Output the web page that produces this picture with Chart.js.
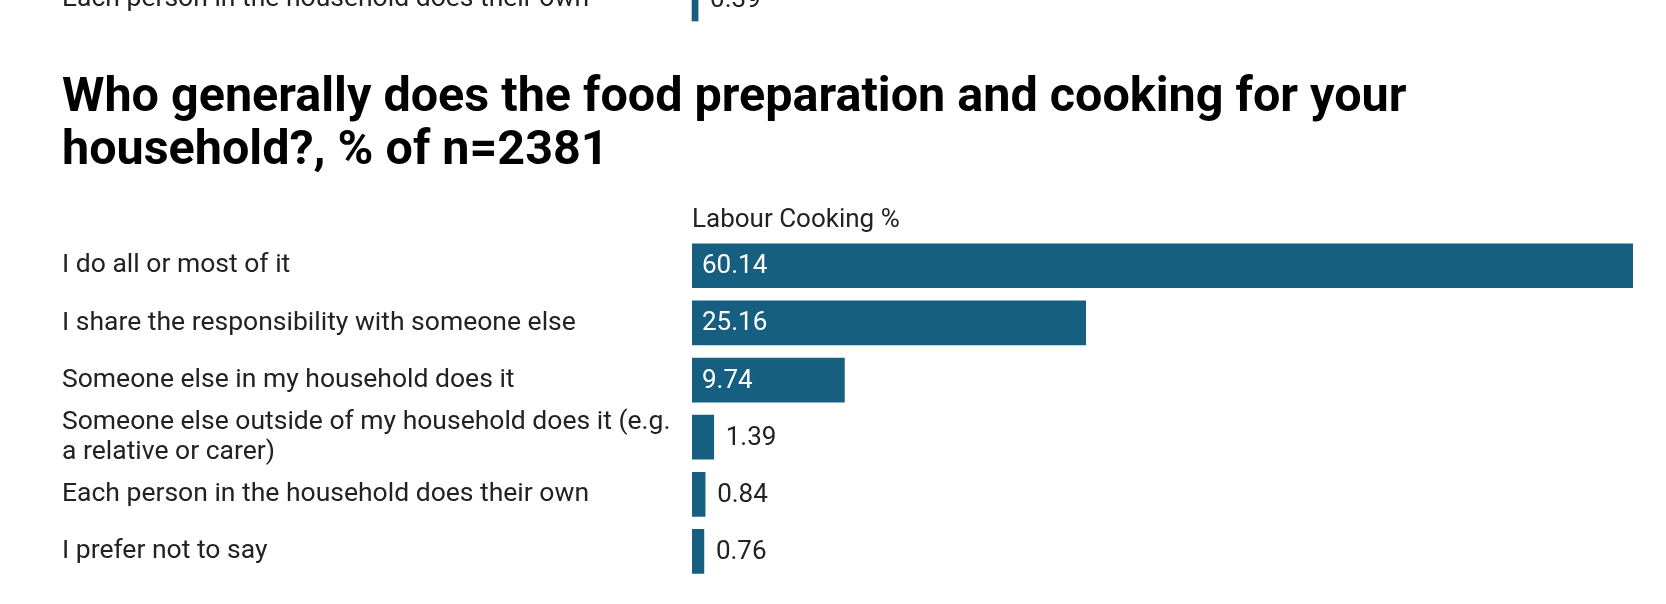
<!DOCTYPE html>
<html>
<head>
<meta charset="utf-8">
<script src="https://cdn.jsdelivr.net/npm/chart.js@4/dist/chart.umd.min.js"></script>
<style>
  html, body { margin: 0; padding: 0; background: #fff; overflow: hidden; }
  #wrap { position: relative; width: 1666px; height: 604px; overflow: hidden; }
  #prevChart { position: absolute; left: 0; top: -26px; }
  #mainChart { position: absolute; left: 0; top: 0; }
</style>
</head>
<body>
<div id="wrap">
  <canvas id="prevChart" width="1666" height="50"></canvas>
  <canvas id="mainChart" width="1666" height="604"></canvas>
</div>
<script>
// tail of the previous question (only its last row shows)
const prevCategories = ['Each person in the household does their own'];
const prevValues = [0.39];

// cooking question
const titleLines = [
  'Who generally does the food preparation and cooking for your',
  'household?, % of n=2381'
];
const seriesName = 'Labour Cooking %';
const categories = [
  'I do all or most of it',
  'I share the responsibility with someone else',
  'Someone else in my household does it',
  ['Someone else outside of my household does it (e.g.', 'a relative or carer)'],
  'Each person in the household does their own',
  'I prefer not to say'
];
const cookingValues = [60.14, 25.16, 9.74, 1.39, 0.84, 0.76];

const BAR_COLOR = '#175f80';
const TEXT_COLOR = '#222';
const LABEL_COL = 630;

Chart.defaults.font.family = 'Roboto';
Chart.defaults.color = TEXT_COLOR;

// prints each value inside the bar when it fits, else just past its end
const valueLabels = {
  id: 'valueLabels',
  afterDatasetsDraw(chart) {
    const ctx = chart.ctx;
    const meta = chart.getDatasetMeta(0);
    const data = chart.data.datasets[0].data;
    ctx.save();
    ctx.font = '26px Roboto';
    ctx.textBaseline = 'middle';
    ctx.textAlign = 'left';
    meta.data.forEach((bar, i) => {
      const text = data[i].toFixed(2);
      const w = ctx.measureText(text).width;
      if (bar.x - bar.base > w + 24) {
        ctx.fillStyle = '#fff';
        ctx.fillText(text, bar.base + 10, bar.y + 1);
      } else {
        ctx.fillStyle = TEXT_COLOR;
        ctx.fillText(text, bar.x + 12, bar.y + 1);
      }
    });
    ctx.restore();
  }
};

const xMax = Math.max(...cookingValues);

function barOptions(extra) {
  return Object.assign({
    indexAxis: 'y',
    responsive: false,
    animation: false,
    events: [],
    plugins: {
      legend: { display: false },
      tooltip: { enabled: false }
    },
    scales: {
      x: {
        min: 0,
        max: xMax,
        display: false
      },
      y: {
        grid: { display: false, drawTicks: false },
        border: { display: false },
        ticks: {
          autoSkip: false,
          crossAlign: 'far',
          padding: 0,
          color: TEXT_COLOR,
          font: { size: 26.5, lineHeight: 1.15 }
        },
        afterFit(scale) { scale.width = LABEL_COL; }
      }
    }
  }, extra);
}

new Chart(document.getElementById('prevChart'), {
  type: 'bar',
  data: {
    labels: prevCategories,
    datasets: [{ data: prevValues, backgroundColor: BAR_COLOR, barThickness: 44, clip: false }]
  },
  options: barOptions({
    layout: { padding: { left: 62, right: 33, top: 0, bottom: 0 } }
  }),
  plugins: [valueLabels]
});

const mainOpts = barOptions({
  layout: { padding: { left: 62, right: 33, top: 0, bottom: 24 } }
});
mainOpts.plugins.title = {
  display: true,
  text: titleLines,
  align: 'start',
  color: '#000',
  font: { size: 48.5, weight: 'bold', lineHeight: 1.093 },
  padding: { top: 72, bottom: 23 }
};
mainOpts.scales.x = {
  min: 0,
  max: xMax,
  position: 'top',
  grid: { display: false, drawTicks: false },
  border: { display: false },
  ticks: { display: false },
  title: {
    display: true,
    text: seriesName,
    align: 'start',
    color: TEXT_COLOR,
    font: { size: 26, lineHeight: 1.2 },
    padding: { top: 4, bottom: 1 }
  }
};

new Chart(document.getElementById('mainChart'), {
  type: 'bar',
  data: {
    labels: categories,
    datasets: [{
      label: seriesName,
      data: cookingValues,
      backgroundColor: BAR_COLOR,
      barThickness: 44
    }]
  },
  options: mainOpts,
  plugins: [valueLabels]
});
</script>
</body>
</html>
